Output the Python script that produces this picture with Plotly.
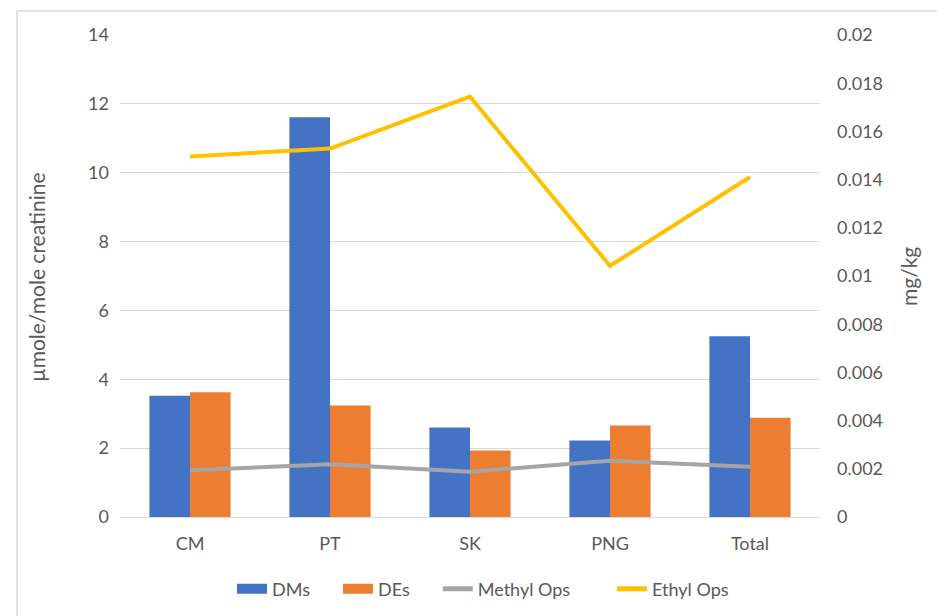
import plotly.graph_objects as go

categories = ["CM", "PT", "SK", "PNG", "Total"]
dms = [3.52, 11.61, 2.60, 2.22, 5.25]
des = [3.62, 3.24, 1.93, 2.66, 2.88]
methyl_ops = [0.00194, 0.00219, 0.00188, 0.00233, 0.00208]
ethyl_ops = [0.01496, 0.01529, 0.01744, 0.01042, 0.01411]

left_ticks = [0, 2, 4, 6, 8, 10, 12, 14]
right_ticks = [0, 0.002, 0.004, 0.006, 0.008, 0.01, 0.012, 0.014, 0.016, 0.018, 0.02]
right_labels = ["0", "0.002", "0.004", "0.006", "0.008", "0.01", "0.012", "0.014", "0.016", "0.018", "0.02"]

FONT = "Lato"
TXT = "#595959"
BLUE, ORANGE, GREY, GOLD = "#4472C4", "#ED7D31", "#A5A5A5", "#FFC000"
OFF = 8  # page body margin
PL, PR, PT_, PB = 120 - OFF, 820 - OFF, 35 - OFF, 517 - OFF
PW, PH = PR - PL, PB - PT_
W, H = 945, 616
NB = "\u00a0"

fig = go.Figure()
fig.add_trace(go.Bar(x=categories, y=dms, name="DMs", marker_color=BLUE,
                     marker_line_width=0, yaxis="y", showlegend=False))
fig.add_trace(go.Bar(x=categories, y=des, name="DEs", marker_color=ORANGE,
                     marker_line_width=0, yaxis="y", showlegend=False))
fig.add_trace(go.Scatter(x=categories, y=methyl_ops, name="Methyl Ops", mode="lines",
                         line=dict(color=GREY, width=4), yaxis="y2", showlegend=False))
fig.add_trace(go.Scatter(x=categories, y=ethyl_ops, name="Ethyl Ops", mode="lines",
                         line=dict(color=GOLD, width=4), yaxis="y2", showlegend=False))

# legend entries (wide rectangular swatches like the original)
for name, pad, color, lw in [("DMs", 5, BLUE, 11), ("DEs", 5, ORANGE, 11),
                             ("Methyl Ops", 8, GREY, 5), ("Ethyl Ops", 0, GOLD, 5)]:
    fig.add_trace(go.Scatter(x=[None], y=[None], name=name + NB * pad, mode="lines",
                             line=dict(color=color, width=lw), showlegend=True,
                             hoverinfo="skip"))

fig.update_layout(
    width=W, height=H,
    margin=dict(l=PL, r=W - PR, t=PT_, b=H - PB, autoexpand=False),
    paper_bgcolor="white", plot_bgcolor="white",
    font=dict(family=FONT, size=18, color=TXT),
    barmode="group", bargap=0.42, bargroupgap=0,
    showlegend=True,
    legend=dict(orientation="h", x=(483 - 120) / 700, xanchor="center",
                y=-(589 - 517) / PH, yanchor="middle",
                font=dict(size=18, color=TXT), itemwidth=30, traceorder="normal"),
    xaxis=dict(range=[-0.5, 4.5], showgrid=False, showline=False, ticks="",
               tickfont=dict(size=18, color=TXT), ticklabelstandoff=14),
    yaxis=dict(range=[0, 14], tickvals=left_ticks, showgrid=True, gridcolor="#D9D9D9",
               gridwidth=1, zeroline=True, zerolinecolor="#D9D9D9", zerolinewidth=1,
               showline=False, ticks="", tickfont=dict(size=18, color=TXT),
               ticklabelstandoff=10),
    yaxis2=dict(range=[0, 0.02], tickvals=right_ticks, ticktext=right_labels,
                overlaying="y", side="right", showgrid=False, zeroline=False,
                showline=False, ticks="", tickfont=dict(size=18, color=TXT),
                ticklabelstandoff=16),
    shapes=[dict(type="rect", xref="paper", yref="paper",
                 x0=(17 - 120) / 700, x1=(960 - 120) / 700,
                 y0=-(640 - 517) / PH, y1=(517 - 11) / PH,
                 line=dict(color="#D9D9D9", width=1.5), fillcolor="rgba(0,0,0,0)",
                 layer="below")],
    annotations=[
        dict(text="µmole/mole creatinine", xref="paper", yref="paper",
             x=(36 - 120) / 700, y=(517 - 277) / PH, xanchor="center", yanchor="middle",
             textangle=-90, showarrow=False,
             font=dict(size=21, color=TXT, family=FONT)),
        dict(text="mg/kg", xref="paper", yref="paper",
             x=(908 - 120) / 700, y=(517 - 277) / PH, xanchor="center", yanchor="middle",
             textangle=-90, showarrow=False,
             font=dict(size=21, color=TXT, family=FONT)),
    ],
)

fig.write_html("out.html")
